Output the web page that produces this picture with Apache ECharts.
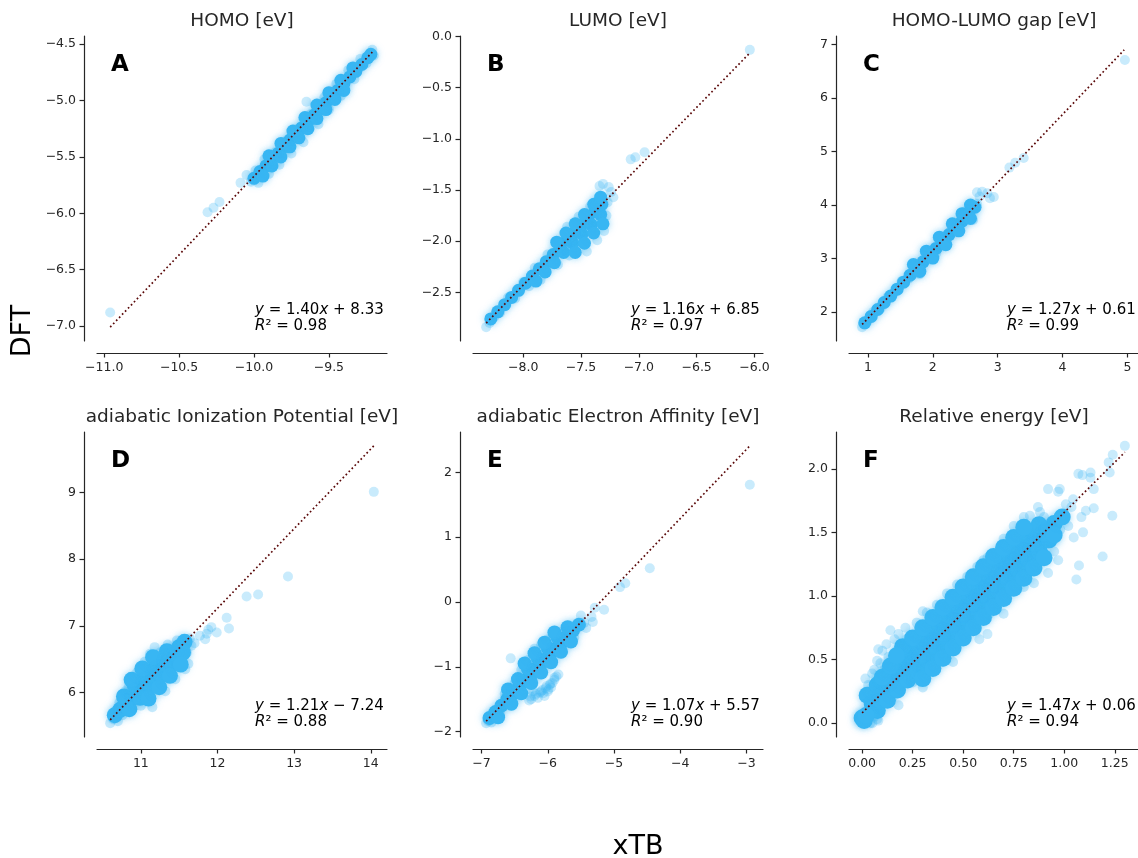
<!DOCTYPE html>
<html>
<head>
<meta charset="utf-8">
<title>xTB vs DFT</title>
<script src="https://cdn.jsdelivr.net/npm/echarts@6/dist/echarts.min.js"></script>
<style>
    html, body { margin: 0; padding: 0; background: #fff; }
    #main { width: 1138px; height: 858px; }
</style>
</head>
<body>
<div id="main"></div>
<script>
// panel texts
var titles = ['HOMO [eV]', 'LUMO [eV]', 'HOMO-LUMO gap [eV]',
    'adiabatic Ionization Potential [eV]', 'adiabatic Electron Affinity [eV]', 'Relative energy [eV]'];
var letters = ['A', 'B', 'C', 'D', 'E', 'F'];
var slopes = [1.40, 1.16, 1.27, 1.21, 1.07, 1.47];
var intercepts = [8.33, 6.85, 0.61, -7.24, 5.57, 0.06];
var r2 = [0.98, 0.97, 0.99, 0.88, 0.90, 0.94];

// tick labels
var homoXTicks = [-11.0, -10.5, -10.0, -9.5], homoYTicks = [-7.0, -6.5, -6.0, -5.5, -5.0, -4.5];
var lumoXTicks = [-8.0, -7.5, -7.0, -6.5, -6.0], lumoYTicks = [-2.5, -2.0, -1.5, -1.0, -0.5, 0.0];
var gapXTicks = [1, 2, 3, 4, 5], gapYTicks = [2, 3, 4, 5, 6, 7];
var ipXTicks = [11, 12, 13, 14], ipYTicks = [6, 7, 8, 9];
var eaXTicks = [-7, -6, -5, -4, -3], eaYTicks = [-2, -1, 0, 1, 2];
var relXTicks = [0, 0.25, 0.5, 0.75, 1.0, 1.25], relYTicks = [0, 0.5, 1.0, 1.5, 2.0];
var xDecimals = [1, 1, 0, 0, 0, 2], yDecimals = [1, 1, 0, 0, 0, 1];

// A: HOMO  [xTB, DFT]
var homoDense = [[-10.00,-5.69],[-9.96,-5.63],[-9.92,-5.58],[-9.88,-5.52],[-9.84,-5.47],[-9.80,-5.41],[-9.76,-5.35],
    [-9.72,-5.30],[-9.68,-5.24],[-9.64,-5.19],[-9.60,-5.13],[-9.56,-5.07],[-9.52,-5.02],[-9.48,-4.96],[-9.44,-4.91],
    [-9.40,-4.85],[-9.36,-4.79],[-9.32,-4.74],[-9.28,-4.68],[-9.24,-4.62],[-9.22,-4.59],
    [-9.94,-5.67],[-9.88,-5.58],[-9.82,-5.50],[-9.76,-5.41],[-9.70,-5.33],[-9.64,-5.25],[-9.58,-5.16],[-9.52,-5.08],
    [-9.46,-4.99],[-9.40,-4.91],
    [-9.90,-5.49],[-9.82,-5.38],[-9.74,-5.27],[-9.66,-5.15],[-9.58,-5.04],[-9.50,-4.93],[-9.42,-4.82],[-9.34,-4.71]];
var homoSparse = [[-10.96,-6.88],[-10.31,-5.99],[-10.27,-5.95],[-10.23,-5.90],[-10.09,-5.73],[-10.05,-5.66],[-10.02,-5.72],
    [-9.99,-5.62],[-9.97,-5.73],[-9.93,-5.52],[-9.90,-5.65],[-9.86,-5.46],[-9.83,-5.57],[-9.79,-5.36],[-9.75,-5.47],
    [-9.71,-5.25],[-9.65,-5.01],[-9.67,-5.37],[-9.62,-5.12],[-9.57,-5.21],[-9.53,-4.97],[-9.50,-5.08],[-9.45,-4.85],
    [-9.42,-4.96],[-9.37,-4.73],[-9.33,-4.81],[-9.29,-4.63],[-9.25,-4.67],[-9.21,-4.55],[-9.20,-4.60]];
var homoFit = [[-10.96,-7.01],[-9.21,-4.57]];

// B: LUMO
var lumoDense = [[-8.28,-2.76],[-8.22,-2.69],[-8.16,-2.62],[-8.10,-2.55],[-8.04,-2.48],[-7.98,-2.41],[-7.92,-2.34],
    [-7.86,-2.27],[-7.80,-2.20],[-7.74,-2.13],[-7.68,-2.06],[-7.62,-1.99],[-7.56,-1.92],[-7.50,-1.85],[-7.44,-1.78],
    [-7.38,-1.71],[-7.32,-1.64],
    [-7.89,-2.39],[-7.81,-2.30],[-7.73,-2.21],[-7.65,-2.11],[-7.57,-2.02],[-7.49,-1.93],[-7.41,-1.84],[-7.33,-1.74],
    [-7.55,-2.11],[-7.47,-2.02],[-7.39,-1.92],[-7.31,-1.83],
    [-7.71,-2.01],[-7.63,-1.92],[-7.55,-1.83],[-7.47,-1.74],[-7.39,-1.64],[-7.33,-1.57]];
var lumoSparse = [[-8.32,-2.84],[-8.29,-2.80],[-8.25,-2.74],[-8.20,-2.70],[-8.13,-2.55],[-8.07,-2.56],[-8.00,-2.40],
    [-7.95,-2.44],[-7.90,-2.26],[-7.85,-2.38],[-7.79,-2.13],[-7.70,-2.23],[-7.62,-1.86],[-7.60,-2.14],[-7.52,-1.76],
    [-7.45,-2.10],[-7.42,-1.66],[-7.36,-1.99],[-7.34,-1.46],[-7.31,-1.44],[-7.26,-1.47],[-7.24,-1.52],[-7.22,-1.57],
    [-7.27,-1.62],[-7.30,-1.90],[-7.28,-1.75],[-7.07,-1.20],[-7.03,-1.18],[-6.95,-1.13],[-6.04,-0.13]];
var lumoFit = [[-8.32,-2.80],[-6.04,-0.16]];

// C: HOMO-LUMO gap
var gapDense = [[0.95,1.80],[1.05,1.92],[1.15,2.05],[1.25,2.18],[1.35,2.30],[1.45,2.43],[1.55,2.56],[1.65,2.69],
    [1.75,2.81],[1.85,2.94],[1.95,3.07],[2.05,3.19],[2.15,3.32],[2.25,3.45],[2.35,3.57],[2.45,3.70],[2.55,3.83],
    [2.65,3.96],
    [1.70,2.89],[1.90,3.14],[2.10,3.40],[2.30,3.65],[2.45,3.84],[2.58,4.00],
    [1.80,2.76],[2.00,3.01],[2.20,3.26],[2.40,3.52],[2.58,3.75]];
var gapSparse = [[0.91,1.72],[0.94,1.77],[1.00,1.84],[1.08,2.00],[1.20,2.08],[1.30,2.28],[1.40,2.36],[1.52,2.58],
    [1.62,2.62],[1.72,2.85],[1.80,2.71],[1.95,3.12],[2.05,3.10],[2.12,3.40],[2.22,3.38],[2.32,3.65],[2.40,3.50],
    [2.50,3.88],[2.62,3.72],[2.68,4.02],[2.68,4.24],[2.72,4.16],[2.76,4.25],[2.84,4.22],[2.88,4.13],[2.94,4.15],
    [3.18,4.70],[3.27,4.79],[3.40,4.88],[4.96,6.71]];
var gapFit = [[0.91,1.77],[4.95,6.90]];

// D: adiabatic IP
var ipDense = [[10.66,5.66],[10.73,5.74],[10.80,5.83],[10.87,5.91],[10.94,6.00],[11.01,6.08],[11.08,6.17],
    [11.15,6.25],[11.22,6.34],[11.29,6.42],[11.36,6.51],[11.43,6.59],[11.50,6.68],[11.57,6.76],
    [10.78,5.94],[10.92,6.11],[11.06,6.28],[11.20,6.45],[11.34,6.62],
    [10.88,6.19],[11.02,6.36],[11.16,6.53],
    [10.85,5.75],[10.99,5.92],[11.13,6.09],[11.27,6.26],[11.41,6.43],[11.55,6.60],
    [11.10,5.91],[11.24,6.08],[11.38,6.25],[11.52,6.42]];
var ipSparse = [[10.60,5.54],[10.64,5.60],[10.70,5.57],[10.68,5.73],[10.76,5.66],[10.80,6.02],[10.95,6.30],
    [11.05,6.46],[11.18,6.68],[11.15,5.78],[11.00,5.80],[11.25,6.60],[11.35,6.72],[11.47,6.78],[11.62,6.43],
    [11.64,6.81],[11.70,6.74],[11.77,6.85],[11.86,6.88],[11.88,6.94],[11.92,6.98],[11.99,6.90],[11.84,6.80],
    [12.12,7.12],[12.15,6.96],[12.38,7.44],[12.53,7.47],[12.92,7.74],[14.04,9.01],[11.32,6.02],[11.45,6.20],
    [11.58,6.35],[10.72,5.85],[10.84,6.08],[11.12,6.58],[11.40,6.32],[11.60,6.60],[11.66,6.70]];
var ipFit = [[10.60,5.59],[14.04,9.70]];

// E: adiabatic EA
var eaDense = [[-6.88,-1.79],[-6.79,-1.70],[-6.70,-1.60],[-6.61,-1.50],[-6.52,-1.41],[-6.43,-1.31],[-6.34,-1.21],
    [-6.25,-1.12],[-6.16,-1.02],[-6.07,-0.92],[-5.98,-0.83],[-5.89,-0.73],[-5.80,-0.64],[-5.71,-0.54],[-5.62,-0.44],
    [-5.53,-0.35],
    [-6.60,-1.35],[-6.45,-1.19],[-6.30,-1.03],[-6.15,-0.87],[-6.00,-0.71],[-5.85,-0.55],[-5.70,-0.39],
    [-6.35,-0.95],[-6.20,-0.79],[-6.05,-0.63],[-5.90,-0.47],
    [-6.75,-1.78],[-6.55,-1.57],[-6.40,-1.41],[-6.25,-1.25],[-6.10,-1.09],[-5.95,-0.93],[-5.80,-0.77],[-5.65,-0.61]];
var eaSparse = [[-6.93,-1.87],[-6.90,-1.84],[-6.85,-1.86],[-6.80,-1.80],[-6.72,-1.72],[-6.65,-1.42],[-6.56,-0.87],
    [-6.50,-1.25],[-6.40,-1.05],[-6.30,-0.90],[-6.20,-0.72],[-6.10,-0.66],[-6.00,-0.58],[-5.92,-0.52],[-5.80,-0.47],
    [-5.72,-0.40],[-5.65,-0.38],[-5.60,-0.55],[-5.50,-0.21],[-5.45,-0.32],[-5.42,-0.40],[-5.34,-0.23],[-5.32,-0.31],
    [-5.29,-0.09],[-5.15,-0.12],[-4.91,0.23],[-4.83,0.29],[-4.46,0.52],[-2.95,1.81],
    [-6.28,-1.52],[-6.25,-1.50],[-6.20,-1.45],[-6.15,-1.48],[-6.12,-1.40],[-6.08,-1.36],[-6.03,-1.33],[-6.00,-1.38],
    [-5.97,-1.28],[-5.93,-1.25],[-5.90,-1.20],[-5.87,-1.15],[-5.84,-1.12],[-6.22,-1.38],[-6.05,-1.45],[-5.95,-1.32],
    [-6.18,-1.42],[-6.10,-1.38],[-6.02,-1.30],[-5.96,-1.26],[-5.90,-1.17],[-6.26,-1.46],[-6.07,-1.41],[-5.99,-1.35]];
var eaFit = [[-6.93,-1.84],[-2.95,2.41]];

// F: relative energy
var relDense = [[0.00,0.04],[0.05,0.15],[0.10,0.23],[0.15,0.31],[0.20,0.39],[0.25,0.47],[0.30,0.55],[0.35,0.63],
    [0.40,0.71],[0.45,0.79],[0.50,0.87],[0.55,0.95],[0.60,1.03],[0.65,1.10],[0.70,1.18],[0.75,1.26],[0.80,1.34],
    [0.85,1.42],[0.90,1.50],[0.95,1.57],
    [0.025,0.22],[0.075,0.30],[0.125,0.38],[0.175,0.46],[0.225,0.54],[0.275,0.61],[0.325,0.69],[0.375,0.77],
    [0.425,0.85],[0.475,0.93],[0.525,1.01],[0.575,1.09],[0.625,1.17],[0.675,1.24],[0.725,1.32],[0.775,1.40],
    [0.825,1.48],[0.875,1.56],
    [0.075,0.10],[0.125,0.18],[0.175,0.26],[0.225,0.34],[0.275,0.41],[0.325,0.49],[0.375,0.57],[0.425,0.65],
    [0.475,0.73],[0.525,0.81],[0.575,0.89],[0.625,0.97],[0.675,1.04],[0.725,1.12],[0.775,1.20],[0.825,1.28],
    [0.875,1.36],[0.925,1.44],
    [0.20,0.60],[0.25,0.67],[0.30,0.75],[0.35,0.83],[0.40,0.91],[0.45,0.99],[0.50,1.07],[0.55,1.15],[0.60,1.23],
    [0.65,1.31],[0.70,1.38],[0.75,1.46],[0.80,1.54],
    [0.30,0.35],[0.35,0.43],[0.40,0.51],[0.45,0.59],[0.50,0.67],[0.55,0.75],[0.60,0.83],[0.65,0.91],[0.70,0.98],
    [0.75,1.06],[0.80,1.14],[0.85,1.22],[0.90,1.30],
    [0.10,0.36],[0.14,0.45],[0.17,0.53],[0.01,0.02],[0.02,0.06],[0.95,1.48],[0.99,1.62]];
var relSparse = [[1.30,2.18],[1.24,2.11],[1.22,2.05],[1.225,1.97],[1.13,1.97],[1.09,1.95],[1.07,1.96],[1.13,1.93],
    [1.146,1.84],[0.978,1.84],[1.107,1.67],[1.146,1.69],[1.238,1.63],[1.093,1.50],[1.047,1.46],[0.97,1.28],
    [1.073,1.24],[1.06,1.13],[1.19,1.31],[1.008,1.72],[1.044,1.76],[0.97,1.82],[1.036,1.70],[1.085,1.62],[1.00,1.62],
    [0.80,1.07],[0.63,0.86],[0.50,0.70],[0.35,0.54],[0.22,0.39],[0.107,0.25],[0.074,0.03],[0.05,0.00],
    [0.14,0.73],[0.214,0.75],[0.27,0.79],[0.016,0.35],[0.05,0.39],[0.074,0.49],[0.10,0.57],[0.32,0.87],[0.37,0.93],
    [0.47,1.09],[0.57,1.23],[0.70,1.45],[0.83,1.63],[0.87,1.70],[0.92,1.84],
    [0.00,0.00],[0.01,0.08],[0.02,0.03],[0.03,0.10],[0.04,0.00],[0.06,0.05],[0.08,0.02],[0.005,0.05],
    [0.95,1.35],[0.90,1.62],[0.98,1.52],[1.02,1.55],[0.60,1.28],[0.40,0.48],[0.25,0.32],[0.15,0.20],
    [0.03,0.30],[0.06,0.42],[0.09,0.47],[0.12,0.62],[0.16,0.66],[0.18,0.70],[0.22,0.66],[0.08,0.58],[0.13,0.52],
    [0.20,0.58],[0.04,0.25],[0.11,0.42],
    [0.18,0.14],[0.30,0.28],[0.45,0.48],[0.58,0.66],[0.70,0.86],[0.85,1.10],[0.92,1.18],[0.62,0.70],
    [0.30,0.88],[0.42,1.02],[0.52,1.15],[0.62,1.30],[0.75,1.55],[0.80,1.62],[0.88,1.66]];
var relFit = [[0.00,0.08],[1.30,2.13]];

var panels = [
    { dense: homoDense, sparse: homoSparse, fit: homoFit, xTicks: homoXTicks, yTicks: homoYTicks },
    { dense: lumoDense, sparse: lumoSparse, fit: lumoFit, xTicks: lumoXTicks, yTicks: lumoYTicks },
    { dense: gapDense, sparse: gapSparse, fit: gapFit, xTicks: gapXTicks, yTicks: gapYTicks },
    { dense: ipDense, sparse: ipSparse, fit: ipFit, xTicks: ipXTicks, yTicks: ipYTicks },
    { dense: eaDense, sparse: eaSparse, fit: eaFit, xTicks: eaXTicks, yTicks: eaYTicks },
    { dense: relDense, sparse: relSparse, fit: relFit, xTicks: relXTicks, yTicks: relYTicks }
];

// layout
var colLeft = [97, 473, 849], rowTop = [36, 432];
var gw = 290, gh = 305;
var ink = '#262626';
var blue = 'rgb(56,182,243)';
var font = 'DejaVu Sans';
// the solid core of each cloud is drawn with bigger, opaque markers
var coreSize = [13, 13, 13, 16, 14, 17];

// autoscale like matplotlib: data range + 5% each side
function extent(lists, k) {
    var lo = Infinity, hi = -Infinity;
    lists.forEach(function(l) {
        l.forEach(function(p) {
            lo = Math.min(lo, p[k]);
            hi = Math.max(hi, p[k]);
        });
    });
    var m = (hi - lo) * 0.05;
    return [lo - m, hi + m];
}

function tickFmt(d) {
    return function(v) {
        return Number(v).toFixed(d).replace('-', '\u2212');
    };
}

function eqText(i) {
    var b = intercepts[i];
    return '{i|y} = ' + slopes[i].toFixed(2) + '{i|x} ' + (b < 0 ? '\u2212 ' : '+ ') + Math.abs(b).toFixed(2);
}

var grids = [], xAxes = [], yAxes = [], series = [], graphics = [];

panels.forEach(function(p, i) {
    var L = colLeft[i % 3], T = rowTop[Math.floor(i / 3)];
    var all = [p.dense, p.sparse, p.fit];
    var ex = extent(all, 0), ey = extent(all, 1);

    grids.push({ left: L, top: T, width: gw, height: gh, containLabel: false });

    xAxes.push({
        gridIndex: i, type: 'value', min: ex[0], max: ex[1], offset: 12,
        axisLine: { show: true, onZero: false, lineStyle: { color: ink, width: 1.2 } },
        axisTick: { show: true, inside: false, length: 4.5, customValues: p.xTicks, lineStyle: { color: ink, width: 1.2 } },
        axisLabel: { customValues: p.xTicks, formatter: tickFmt(xDecimals[i]), color: ink,
            fontSize: 12.5, fontFamily: font, margin: 8 },
        splitLine: { show: false }
    });
    yAxes.push({
        gridIndex: i, type: 'value', min: ey[0], max: ey[1], offset: 13,
        axisLine: { show: true, onZero: false, lineStyle: { color: ink, width: 1.2 } },
        axisTick: { show: true, inside: false, length: 4.5, customValues: p.yTicks, lineStyle: { color: ink, width: 1.2 } },
        axisLabel: { customValues: p.yTicks, formatter: tickFmt(yDecimals[i]), color: ink,
            fontSize: 12.5, fontFamily: font, margin: 8 },
        splitLine: { show: false }
    });

    series.push({
        type: 'scatter', xAxisIndex: i, yAxisIndex: i, data: p.sparse,
        symbolSize: 10, itemStyle: { color: blue, opacity: 0.27 }, z: 2
    });
    series.push({
        type: 'scatter', xAxisIndex: i, yAxisIndex: i, data: p.dense,
        symbolSize: coreSize[i],
        itemStyle: { color: blue, opacity: 1, shadowBlur: 7, shadowColor: 'rgba(56,182,243,0.55)' }, z: 3
    });
    series.push({
        type: 'line', xAxisIndex: i, yAxisIndex: i, data: p.fit, showSymbol: false, symbol: 'none',
        lineStyle: { color: '#5a0808', width: 1.7, type: [1.7, 2.6] }, z: 5
    });

    // title
    graphics.push({
        type: 'text', x: L + gw / 2, y: T - 15,
        style: { text: titles[i], fill: ink, font: '18.5px "' + font + '"',
            align: 'center', verticalAlign: 'middle', textAlign: 'center', textVerticalAlign: 'middle' }
    });
    // panel letter
    graphics.push({
        type: 'text', x: L + 14, y: T + 29,
        style: { text: letters[i], fill: '#000', font: 'bold 23px "' + font + '"',
            align: 'left', verticalAlign: 'middle', textAlign: 'left', textVerticalAlign: 'middle' }
    });
    // fit equation
    graphics.push({
        type: 'text', x: L + 158, y: T + gh - 31,
        style: { text: eqText(i), fill: '#000', font: '15px "' + font + '"',
            align: 'left', verticalAlign: 'middle', textAlign: 'left', textVerticalAlign: 'middle',
            rich: { i: { fontStyle: 'italic', fontSize: 15, fontFamily: font, fill: '#000' } } }
    });
    graphics.push({
        type: 'text', x: L + 158, y: T + gh - 15,
        style: { text: '{i|R}\u00b2 = ' + r2[i].toFixed(2), fill: '#000', font: '15px "' + font + '"',
            align: 'left', verticalAlign: 'middle', textAlign: 'left', textVerticalAlign: 'middle',
            rich: { i: { fontStyle: 'italic', fontSize: 15, fontFamily: font, fill: '#000' } } }
    });
});

// shared axis names
graphics.push({
    type: 'text', x: 23, y: 331, rotation: Math.PI / 2,
    style: { text: 'DFT', fill: '#000', font: '27px "' + font + '"',
        align: 'center', verticalAlign: 'middle', textAlign: 'center', textVerticalAlign: 'middle' }
});
graphics.push({
    type: 'text', x: 638, y: 847,
    style: { text: 'xTB', fill: '#000', font: '27px "' + font + '"',
        align: 'center', verticalAlign: 'middle', textAlign: 'center', textVerticalAlign: 'middle' }
});

var myChart = echarts.init(document.getElementById('main'));
myChart.setOption({
    animation: false,
    backgroundColor: '#fff',
    grid: grids,
    xAxis: xAxes,
    yAxis: yAxes,
    series: series,
    graphic: graphics
});
</script>
</body>
</html>
